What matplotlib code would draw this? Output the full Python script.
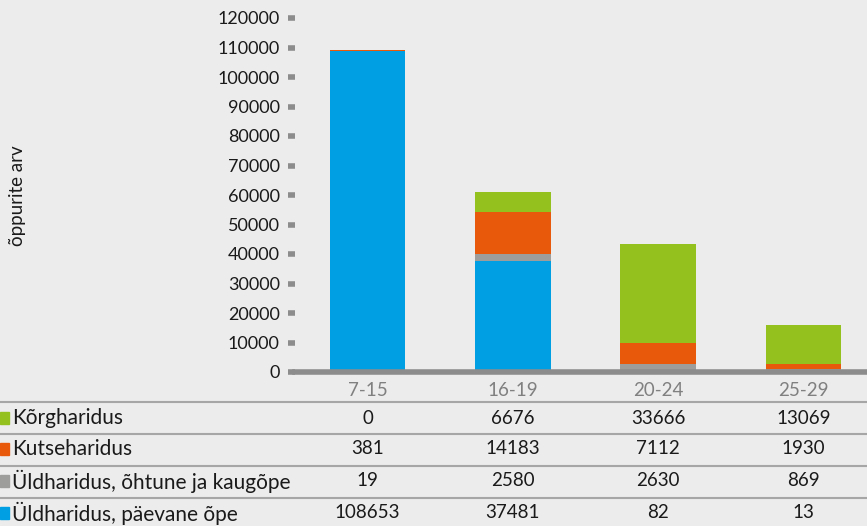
import matplotlib.pyplot as plt
import numpy as np

# vanuserühmad ja õppurite arv haridustaseme järgi
vanus = ['7-15', '16-19', '20-24', '25-29']
paevane = [108653, 37481, 82, 13]
ohtune = [19, 2580, 2630, 869]
kutse = [381, 14183, 7112, 1930]
korg = [0, 6676, 33666, 13069]

nimed = ['Üldharidus, päevane õpe', 'Üldharidus, õhtune ja kaugõpe',
         'Kutseharidus', 'Kõrgharidus']
varvid = ['#009FE3', '#9D9D9C', '#E8590C', '#95C11F']
yticks = np.arange(0, 120001, 10000)

plt.rcParams['font.family'] = ['Lato', 'DejaVu Sans']
bg = '#ECECEC'
W, H = 867, 526
AX_L, AX_W = 295, 581
fig = plt.figure(figsize=(W / 100, H / 100), dpi=100, facecolor=bg)
ax = fig.add_axes([AX_L / W, 154 / H, AX_W / W, 354 / H], facecolor=bg)

x = np.arange(len(vanus))
seeriad = [paevane, ohtune, kutse, korg]
alus = np.zeros(len(vanus))
for vals, col in zip(seeriad, varvid):
    ax.bar(x, vals, bottom=alus, width=0.52, color=col, zorder=2)
    alus += np.array(vals)

ax.set_xlim(-0.5, len(vanus) - 0.5)
ax.set_ylim(0, 120000)
ax.set_yticks(yticks)
ax.set_yticklabels([str(t) for t in yticks], fontsize=13, color='#1a1a1a')
ax.tick_params(axis='y', length=5, width=4, color='#8C8C8C', pad=6)
ax.set_xticks(x)
ax.set_xticklabels(vanus, fontsize=13.5, color='#808080')
ax.tick_params(axis='x', length=0, pad=7)
for s in ['top', 'right', 'left']:
    ax.spines[s].set_visible(False)
ax.spines['bottom'].set_color('#8C8C8C')
ax.spines['bottom'].set_linewidth(4)
fig.text(18 / W, 1 - 196 / H, 'õppurite arv', rotation=90, fontsize=13.5,
         va='center', ha='center', color='#1a1a1a')

# andmetabel joonise all
read_y = [418, 449, 481, 513]
joon_y = [402, 434, 466, 498]
for yy in joon_y:
    fig.add_artist(plt.Line2D([0, 1], [1 - yy / H, 1 - yy / H],
                              transform=fig.transFigure, color='#A6A6A6', lw=1.5))
tabel = list(zip(reversed(nimed), reversed(varvid), reversed(seeriad)))
for (nimi, col, vals), yy in zip(tabel, read_y):
    fy = 1 - yy / H
    fig.patches.append(plt.Rectangle((0, fy - 6 / H), 9 / W, 12 / H,
                                     transform=fig.transFigure, color=col))
    fig.text(12 / W, fy, nimi, fontsize=15, va='center', ha='left', color='#1a1a1a')
    for i, v in enumerate(vals):
        fx = (AX_L + AX_W * (i + 0.5) / len(vanus)) / W
        fig.text(fx, fy, str(v), fontsize=13.5, va='center', ha='center', color='#1a1a1a')

fig.savefig('out.png', dpi=100, facecolor=bg)
